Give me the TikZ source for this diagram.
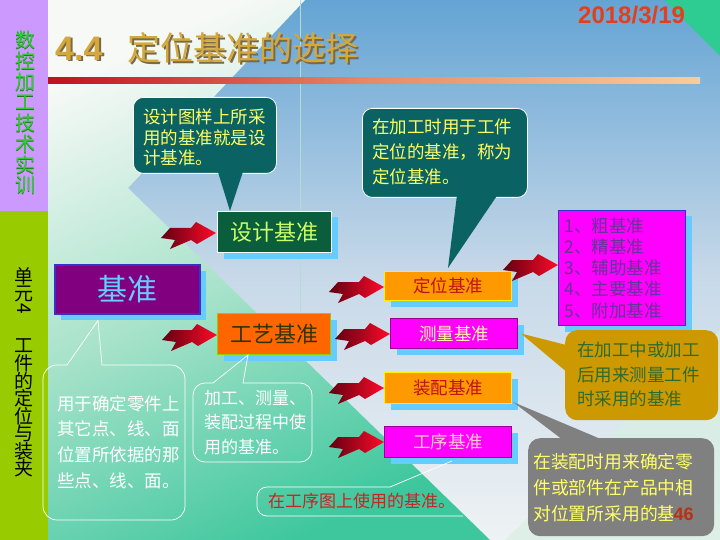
\documentclass[tikz,border=0pt]{standalone}
\usepackage{fontspec}
\setmainfont{Noto Sans CJK SC}
\newfontfamily\latinb{Liberation Sans}
\usetikzlibrary{shadows,calc}
\definecolor{sbpurple}{HTML}{CC99FF}
\definecolor{sbgreen}{HTML}{99CC00}
\definecolor{sbtxt}{HTML}{33CC33}
\definecolor{sbtxtsh}{HTML}{1A7A1A}
\definecolor{bgtop}{HTML}{64A4D4}
\definecolor{bgmid}{HTML}{C6D8E8}
\definecolor{bgbot}{HTML}{EEF2F4}
\definecolor{mintlight}{HTML}{F6F9F6}
\definecolor{mintmid}{HTML}{A6E2CA}
\definecolor{mintdark}{HTML}{3EC79D}
\definecolor{palegreen}{HTML}{D8EFE3}
\definecolor{cornergreen}{HTML}{2ECC92}
\definecolor{gridline}{HTML}{B4DCD4}
\definecolor{gold}{HTML}{D4A83A}
\definecolor{goldsh}{HTML}{7A6848}
\definecolor{datered}{HTML}{E2401C}
\definecolor{rulered}{HTML}{C0101E}
\definecolor{rulemid}{HTML}{E88A6A}
\definecolor{rulepeach}{HTML}{F8CC9C}
\definecolor{calteal}{HTML}{0B6262}
\definecolor{cyellow}{HTML}{FFFF66}
\definecolor{shadowblue}{HTML}{66CCFF}
\definecolor{dkgreen}{HTML}{0B5E3C}
\definecolor{sjtext}{HTML}{CCFF66}
\definecolor{jzpurple}{HTML}{800080}
\definecolor{jzborder}{HTML}{3333CC}
\definecolor{orangeA}{HTML}{FF6600}
\definecolor{orangeB}{HTML}{FF9900}
\definecolor{magentaA}{HTML}{FF00FF}
\definecolor{boxpurple}{HTML}{990099}
\definecolor{darkred}{HTML}{C0101A}
\definecolor{gytext}{HTML}{333300}
\definecolor{clltext}{HTML}{FFFF99}
\definecolor{gxtext}{HTML}{FFCCCC}
\definecolor{listtext}{HTML}{663399}
\definecolor{goldbox}{HTML}{CC9900}
\definecolor{goldtext}{HTML}{2F6B2F}
\definecolor{graybox}{HTML}{808080}
\definecolor{pagenum}{HTML}{B83010}
\definecolor{gxred}{HTML}{CC2222}
\definecolor{boltdark}{HTML}{600010}
\definecolor{boltred}{HTML}{FF0A2A}
\tikzset{
  sbox/.style={anchor=north west, inner sep=0pt, line width=1pt,
    drop shadow={shadow xshift=6pt, shadow yshift=-6pt, fill=shadowblue, opacity=1}},
  wline/.style={draw=white, line width=0.7pt},
  para/.style={anchor=north west, inner sep=0pt, align=left},
  bolt/.pic={\shade[left color=boltdark, middle color=boltred, right color=boltred]
    (0,0) -- (9,-10) -- (30,-10) -- (35,-16) -- (55,-5) -- (36,6) -- (30,2) -- (9,11) -- (14,2) -- cycle;},
}
\begin{document}
\begin{tikzpicture}[x=1pt,y=-1pt]
\useasboundingbox (0,0) rectangle (720,540);
% background
\shade[top color=bgtop, bottom color=bgbot, middle color=bgmid] (48,0) rectangle (720,540);
\shade[top color=mintlight, bottom color=mintdark, middle color=mintmid, shading angle=25]
  (48,0) -- (305,0) -- (128,188) -- (490,540) -- (48,540) -- cycle;
\fill[palegreen, opacity=0.7] (505,540) -- (720,330) -- (720,540) -- cycle;
\fill[cornergreen] (664,0) -- (720,0) -- (720,56) -- cycle;
\draw[line width=0.8pt, gridline] (300,0) -- (300,312);
\fill[sbpurple] (0,0) rectangle (48,211);
\fill[sbgreen] (0,211) rectangle (48,540);
% sidebar texts
\foreach \ch [count=\i] in {数,控,加,工,技,术,实,训} {
  \node[inner sep=0pt, text=sbtxtsh, font=\fontsize{20}{20}\selectfont] (sbs\i) at (26,20.5+20.7*\i) {\ch};
  \node[inner sep=0pt, text=sbtxt, font=\fontsize{20}{20}\selectfont] (sb\i) at (25,19.5+20.7*\i) {\ch};
}
\foreach \ch/\yy [count=\i] in {单/276,元/293.5,工/346,件/363.5,的/381,定/398.5,位/416,与/433.5,装/451,夹/468.5}
  \node[inner sep=0pt, text=black, font=\fontsize{19}{19}\selectfont] (sv\i) at (24,\yy) {\ch};
\node[inner sep=0pt, text=black, rotate=-90, font=\fontsize{19}{19}\selectfont] (svfour) at (24,309) {4};
% title
\node[anchor=base west, inner sep=0pt, text=goldsh, font=\latinb\bfseries\fontsize{34}{34}\selectfont] (t1s) at (57,62) {4.4};
\node[anchor=base west, inner sep=0pt, text=gold, font=\latinb\bfseries\fontsize{34}{34}\selectfont] (t1) at (55,60.5) {4.4};
\node[anchor=base west, inner sep=0pt, text=goldsh, font=\fontsize{33}{33}\selectfont] (t2s) at (129,62.5) {定位基准的选择};
\node[anchor=base west, inner sep=0pt, text=gold, font=\fontsize{33}{33}\selectfont] (t2) at (127,61) {定位基准的选择};
\node[anchor=base west, inner sep=0pt, text=datered, font=\latinb\bfseries\fontsize{24}{24}\selectfont] (date) at (578,24) {2018/3/19};
\shade[left color=rulered, right color=rulepeach, middle color=rulemid] (48,77.5) rectangle (700,83.5);
% teal callouts (bodies)
\node[anchor=north west, fill=calteal, draw=white, line width=0.8pt, rounded corners=10pt, minimum width=143, minimum height=76, inner sep=0pt] (c1) at (133,97) {};
\node[para, text width=130, text=cyellow, font=\fontsize{17.5}{20.5}\selectfont] (c1t) at (143,109) {设计图样上所采\\用的基准就是设\\计基准。};
\node[anchor=north west, fill=calteal, draw=white, line width=0.8pt, rounded corners=10pt, minimum width=165, minimum height=89, inner sep=0pt] (c2) at (362,108) {};
\node[para, text width=150, text=cyellow, font=\fontsize{17.5}{25}\selectfont] (c2t) at (372,119) {在加工时用于工件\\定位的基准，称为\\定位基准。};
% boxes
\node[sbox, draw=white, fill=dkgreen, text=sjtext, minimum width=114, minimum height=41, font=\fontsize{22}{22}\selectfont] (sj) at (217,211) {设计基准};
\node[sbox, draw=jzborder, line width=1.5pt, fill=jzpurple, text=shadowblue, minimum width=145, minimum height=49, font=\fontsize{30}{30}\selectfont] (jz) at (54,264) {基准};
\node[sbox, draw=sbgreen, fill=orangeA, text=gytext, minimum width=113, minimum height=41, font=\fontsize{22}{22}\selectfont] (gy) at (217,313) {工艺基准};
\node[sbox, draw=yellow, fill=orangeB, text=darkred, minimum width=127, minimum height=29, font=\fontsize{17.5}{17.5}\selectfont] (dw) at (384,271) {定位基准};
\node[sbox, draw=boxpurple, fill=magentaA, text=clltext, minimum width=127, minimum height=30, font=\fontsize{17.5}{17.5}\selectfont] (cl) at (390,318) {测量基准};
\node[sbox, draw=yellow, fill=orangeB, text=darkred, minimum width=127, minimum height=31, font=\fontsize{17.5}{17.5}\selectfont] (zp) at (384,372) {装配基准};
\node[sbox, draw=boxpurple, fill=magentaA, text=gxtext, minimum width=127, minimum height=31, font=\fontsize{17.5}{17.5}\selectfont] (gx) at (384,426) {工序基准};
\node[sbox, draw=jzborder, fill=magentaA, text=listtext, minimum width=127, minimum height=115, text width=115, align=left, font=\fontsize{17.5}{21.3}\selectfont] (lst) at (558,210) {1、粗基准\\2、精基准\\3、辅助基准\\4、主要基准\\5、附加基准};
% teal pointers
\fill[calteal] ($(c1.south)+(13,-2)$) -- ($(sj.north west)+(13,0)$) -- ($(c1.south)+(38,-2)$) -- cycle;
\fill[calteal] ($(c2.south)+(12,-2)$) -- ($(dw.north)+(0,-3)$) -- ($(c2.south)+(52,-2)$) -- cycle;
% gold callout
\node[anchor=north west, fill=goldbox, rounded corners=12pt, minimum width=153, minimum height=90, inner sep=0pt] (c3) at (565,330) {};
\fill[goldbox] ($(c3.west)+(2,-30)$) -- ($(cl.east)+(3,0)$) -- ($(c3.west)+(2,-3)$) -- cycle;
\node[para, text width=135, text=goldtext, font=\fontsize{17.5}{24.5}\selectfont] (c3t) at (577,342) {在加工中或加工\\后用来测量工件\\时采用的基准};
% gray callout
\node[anchor=north west, fill=graybox, rounded corners=12pt, minimum width=186, minimum height=98, inner sep=0pt] (c4) at (528,438) {};
\fill[graybox] ($(c4.north west)+(35,2)$) -- ($(zp.south east)+(1,-2)$) -- ($(c4.north west)+(75,2)$) -- cycle;
\node[para, text width=170, text=cyellow, font=\fontsize{17.8}{26}\selectfont] (c4t) at (533,453) {在装配时用来确定零\\件或部件在产品中相\\对位置所采用的基准};
\node[anchor=base west, fill=graybox, inner xsep=0.5pt, inner ysep=2.5pt, text=pagenum, font=\latinb\bfseries\fontsize{18}{18}\selectfont] (pn) at (673,520) {46};
% white outline callouts
\draw[wline] ($(jz.south west)+(44,6)$) -- (67,365) [rounded corners=14pt] -- (43,365) -- (43,520) -- (185,520) -- (185,365) [sharp corners] -- (102,365) -- cycle;
\node[para, text width=130, text=white, font=\fontsize{17.5}{25.7}\selectfont] (c5t) at (57,395) {用于确定零件上\\其它点、线、面\\位置所依据的那\\些点、线、面。};
\draw[wline] ($(gy.south west)+(31,0)$) -- (213,383) [rounded corners=12pt] -- (193,383) -- (193,462) -- (312,462) -- (312,383) [sharp corners] -- (243,383) -- cycle;
\node[para, text width=110, text=white, font=\fontsize{17}{24.5}\selectfont] (c6t) at (204,390) {加工、测量、\\装配过程中使\\用的基准。};
\draw[wline] ($(gx.south west)+(68,3)$) -- (390,487) [rounded corners=10pt] -- (257,487) -- (257,516) -- (463,516);
\node[anchor=west, inner sep=0pt, text=gxred, font=\fontsize{17}{17}\selectfont] (c7t) at (268,501) {在工序图上使用的基准。};
% bolts
\pic at (161,238) {bolt};
\pic at (162,340) {bolt};
\pic at (329,292) {bolt};
\pic at (335,339) {bolt};
\pic at (329,393) {bolt};
\pic at (329,447) {bolt};
\pic at (503,270) {bolt};
\end{tikzpicture}
\end{document}
